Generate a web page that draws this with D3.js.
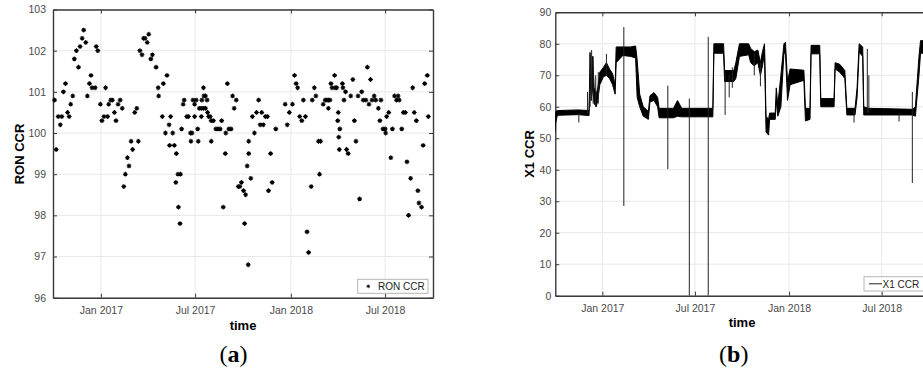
<!DOCTYPE html>
<html lang="en">
<head>
<meta charset="UTF-8">
<title>RON CCR and X1 CCR</title>
<style>
  body { margin: 0; background: #fff; }
  text { font-family: "Liberation Sans", Arial, sans-serif; }
</style>
</head>
<body>
<svg width="923" height="370"></svg>
<script src="https://d3js.org/d3.v7.min.js"></script>
<script>
// ---- data ----
// (a) RON CCR samples: days since 1 Jan 2017, value
const ronDays = [
  -89, -86, -82.5, -78, -75, -72, -68, -64, -61, -58, -54, -51, -47, -43.5, -40, -36.5, -33, -29,
  -26, -22, -19, -17, -11.5, -9, -6, -1, 2, 6, 9, 13, 15, 19, 22, 26, 29, 33, 37, 41,
  43.5, 47, 50.5, 54, 58, 61, 65, 69, 72, 75, 79, 82, 85, 89, 92, 96, 99, 106, 110, 111,
  118, 120, 124, 127, 131, 132, 134, 138, 141, 144, 145, 148, 149, 152, 153, 155, 158, 160,
  165, 168, 172, 173, 175, 177, 180, 180, 183, 185.5, 187, 189, 193, 193, 194, 197, 197, 198,
  201, 201, 204, 205, 207, 210, 212, 212, 216, 221, 225, 229, 232, 235, 239, 240, 243, 246,
  250, 253, 256, 260, 264, 267, 270, 274, 276, 278, 281, 283, 284, 284, 288, 291, 295, 299,
  303, 306, 309, 312, 316, 320, 322, 326, 329, 336, 354, 358, 362, 368, 372, 375, 378, 382,
  386, 389, 393, 396, 399, 404, 406, 410, 413, 418, 420, 422, 427, 431, 434, 437, 437, 440,
  442, 444, 449, 450, 453, 455, 456, 457, 458, 459, 464, 465, 467, 470, 472, 475, 480, 484,
  487, 490, 494, 497, 501, 504, 509, 512, 515, 518, 521, 525, 528, 533, 536, 538, 542, 546,
  547, 549, 553, 557, 560, 564, 568, 571, 573, 578, 581, 585, 588, 591, 595, 599, 602, 606,
  609, 611, 616, 619, 622, 627, 629
];
const ronValues = [
  100.8, 99.6, 100.4, 100.2, 100.4, 101.0, 101.2, 100.5, 100.4, 100.7, 100.9, 101.8, 102.0, 101.6, 102.1, 102.3, 102.5, 102.2,
  100.9, 101.2, 101.4, 101.1, 101.1, 102.1, 102.0, 100.7, 100.3, 100.4, 101.1, 100.4, 100.7, 100.8, 100.8, 100.5, 100.3, 100.7, 100.8, 100.6,
  98.7, 99.0, 99.4, 99.2, 99.8, 99.6, 100.5, 100.6, 99.8, 102.0, 101.9, 102.3, 102.3, 102.2, 102.4, 101.8, 101.9, 101.6, 101.1, 100.9,
  100.4, 101.2, 100.0, 101.4, 100.2, 99.7, 100.4, 100.0, 99.7, 98.8, 99.5, 99.0, 98.2, 97.8, 99.0, 100.1, 100.7, 100.8,
  100.4, 100.4, 100.0, 99.8, 100.0, 100.8, 100.7, 100.4, 100.8, 100.1, 99.8, 100.6, 100.4, 100.6, 100.8, 101.1, 100.6, 100.9,
  100.9, 100.6, 100.8, 100.5, 100.4, 100.4, 100.3, 99.8, 100.3, 100.1, 100.1, 100.1, 100.3, 98.2, 99.5, 100.0, 101.2, 100.1,
  100.1, 100.9, 100.6, 100.8, 98.7, 98.7, 98.8, 98.6, 97.8, 98.5, 99.2, 96.8, 99.8, 99.5, 98.9, 100.4, 100.0, 100.5,
  100.8, 100.2, 100.5, 100.2, 100.4, 100.4, 98.6, 99.5, 98.8, 100.1, 100.7, 100.2, 100.5, 100.7, 101.4, 101.2, 101.1, 100.4,
  100.3, 100.8, 100.4, 97.6, 97.1, 98.7, 100.8, 101.1, 100.9, 99.8, 99.0, 99.8, 100.7, 100.8, 100.8, 100.8, 100.6, 100.8,
  101.2, 101.1, 101.4, 101.1, 101.1, 100.3, 100.5, 99.9, 99.6, 100.1, 101.2, 101.1, 100.8, 101.0, 99.6, 99.5, 100.9, 101.3,
  100.3, 99.8, 100.9, 98.4, 101.0, 100.8, 100.8, 101.6, 100.7, 101.3, 100.8, 100.9, 100.8, 100.6, 100.3, 100.8, 100.1, 100.1,
  100.0, 100.4, 100.5, 99.4, 100.1, 100.9, 100.8, 100.9, 100.8, 100.1, 100.5, 100.5, 99.3, 98.0, 98.9, 101.1, 100.5, 100.3,
  98.6, 98.3, 98.2, 99.7, 101.2, 101.4, 100.4
];

// (b) X1 CCR: noisy band, low and high edge per date
const x1Dates = [
  "2016-09-30", "2016-10-02", "2016-10-05", "2016-11-15", "2016-12-06", "2016-12-08", "2016-12-10", "2016-12-13",
  "2016-12-16", "2016-12-20", "2016-12-23", "2016-12-27", "2017-01-03", "2017-01-09", "2017-01-15", "2017-01-21",
  "2017-01-26", "2017-01-28", "2017-02-10", "2017-02-25", "2017-03-07", "2017-03-10", "2017-03-15", "2017-03-22",
  "2017-04-01", "2017-04-04", "2017-04-12", "2017-04-19", "2017-04-22", "2017-05-20", "2017-05-28", "2017-06-05",
  "2017-08-05", "2017-08-07", "2017-08-26", "2017-08-28", "2017-09-15", "2017-09-19", "2017-09-26", "2017-10-14",
  "2017-10-18", "2017-10-25", "2017-11-01", "2017-11-06", "2017-11-10", "2017-11-14", "2017-11-17", "2017-11-22",
  "2017-11-24", "2017-12-05", "2017-12-07", "2017-12-10", "2017-12-16", "2017-12-22", "2017-12-25", "2017-12-29",
  "2018-01-03", "2018-01-30", "2018-02-02", "2018-02-11", "2018-02-13", "2018-03-02", "2018-03-04", "2018-03-30",
  "2018-04-01", "2018-04-10", "2018-04-20", "2018-04-24", "2018-05-10", "2018-05-14", "2018-05-18", "2018-05-25",
  "2018-05-27", "2018-06-05", "2018-08-30", "2018-09-05", "2018-09-12", "2018-09-15", "2018-10-01"
];
const x1Low = [
  52, 55, 57.3, 57.5, 57.2, 70, 62, 66, 61, 60, 62, 67, 69.5, 70, 69, 67,
  64, 74, 76.3, 76, 75.5, 63, 60, 57, 56, 61.5, 62, 60, 56.5, 56.5, 57, 56.8,
  56.8, 77, 77, 68, 68, 69, 76, 76.5, 74, 73, 74, 70, 73, 77, 52, 51,
  56, 56, 62, 57, 60, 77, 77, 62, 67, 68.4, 55.5, 56, 76.8, 76.8, 60, 60,
  72, 71, 69, 57.4, 57.4, 63, 77.4, 76, 57.4, 57.4, 57.4, 57, 70, 77, 77
];
const x1High = [
  56, 58.5, 58.8, 59, 58.8, 77, 68, 76, 66, 64, 66, 71, 72.5, 74, 72, 70.5,
  67, 79, 79, 79, 79.3, 75, 64, 60, 58.5, 63.5, 64.5, 63, 59.5, 59.5, 62, 59.5,
  59.5, 80, 80, 71.5, 71.5, 74, 80, 80, 78.5, 77.5, 78, 74, 77.5, 80, 57, 56,
  58, 58, 66, 60.5, 70, 80, 80.5, 68, 72, 71.6, 59.5, 59.5, 79.5, 79.5, 62.6, 62.6,
  74, 73.5, 71.5, 59.5, 59.5, 66, 80, 79, 60, 59.5, 59.2, 60, 76, 81, 81
];

// (b) single outlier spikes
const spikeDates = [
  "2016-11-16", "2016-12-03", "2016-12-08", "2016-12-11", "2016-12-14", "2016-12-19", "2016-12-24",
  "2017-01-09", "2017-02-12", "2017-05-09", "2017-06-20", "2017-07-27", "2017-08-29", "2017-09-06",
  "2017-09-12", "2017-10-25", "2017-11-06", "2018-05-08", "2018-06-03", "2018-06-06", "2018-08-04",
  "2018-08-30"
];
const spikeLow = [55, 58, 60, 62, 61, 60, 61, 70, 28.5, 40.2, 0, 0, 57.4, 63, 66, 70, 66.5, 55, 58, 58, 55.3, 35.8];
const spikeHigh = [58, 64.7, 77.5, 78, 76, 70, 71, 76.8, 85.3, 66.7, 62.6, 82.2, 70, 70, 72.5, 77, 74, 59, 78.4, 70, 58, 64.7];

const dateTicks = ["2017-01-01", "2017-07-01", "2018-01-01", "2018-07-01"];
const ronTicks = [96, 97, 98, 99, 100, 101, 102, 103];
const x1Ticks = [0, 10, 20, 30, 40, 50, 60, 70, 80, 90];

// ---- setup ----
const parse = d3.timeParse("%Y-%m-%d");
const day0 = parse("2017-01-01");
const tStart = parse("2016-10-01"), tEnd = parse("2018-10-01");
const tickDates = dateTicks.map(parse);
const fmt = d3.timeFormat("%b %Y");

const svg = d3.select("svg");
const frameColor = "#3a3a3a", gridColor = "#e8e8e8", labelColor = "#4a4a4a";

function drawFrame(g, x, y, yTicks, tickPad) {
  const [x0, x1] = x.range(), [y1, y0] = y.range();

  // grid
  g.append("g").selectAll("line").data(tickDates).join("line")
    .attr("x1", d => x(d)).attr("x2", d => x(d)).attr("y1", y0).attr("y2", y1)
    .attr("stroke", gridColor);
  g.append("g").selectAll("line").data(yTicks).join("line")
    .attr("x1", x0).attr("x2", x1).attr("y1", d => y(d)).attr("y2", d => y(d))
    .attr("stroke", gridColor);

  const styleAxis = a => {
    a.selectAll("path.domain").attr("stroke", frameColor).attr("stroke-width", 1.4);
    a.selectAll(".tick line").attr("stroke", frameColor).attr("stroke-width", 1);
    a.selectAll("text").attr("fill", labelColor).style("font-size", "10.5px")
      .style("font-family", '"Liberation Sans", Arial, sans-serif');
  };

  g.append("g").attr("transform", `translate(0,${y1})`)
    .call(d3.axisBottom(x).tickValues(tickDates).tickFormat(fmt).tickSizeInner(-4).tickSizeOuter(0).tickPadding(9))
    .call(styleAxis);
  g.append("g").attr("transform", `translate(0,${y0})`)
    .call(d3.axisTop(x).tickValues(tickDates).tickFormat("").tickSizeInner(-4).tickSizeOuter(0))
    .call(styleAxis);
  g.append("g").attr("transform", `translate(${x0},0)`)
    .call(d3.axisLeft(y).tickValues(yTicks).tickFormat(d3.format("d")).tickSizeInner(-4).tickSizeOuter(0).tickPadding(tickPad))
    .call(styleAxis);
  g.append("g").attr("transform", `translate(${x1},0)`)
    .call(d3.axisRight(y).tickValues(yTicks).tickFormat("").tickSizeInner(-4).tickSizeOuter(0))
    .call(styleAxis);
}

// ---- (a) RON CCR ----
const xa = d3.scaleTime().domain([tStart, tEnd]).range([53, 433]);
const ya = d3.scaleLinear().domain([96, 103]).range([297.7, 9.5]);
const ga = svg.append("g");
drawFrame(ga, xa, ya, ronTicks, 7);

const star = "M-2.4,0H2.4M0,-2.4V2.4M-1.6,-1.6L1.6,1.6M-1.6,1.6L1.6,-1.6";
ga.append("g").selectAll("path").data(ronDays).join("path")
  .attr("transform", (d, i) => `translate(${xa(d3.timeDay.offset(day0, Math.round(d)))},${ya(ronValues[i])})`)
  .attr("d", star).attr("stroke", "#000").attr("stroke-width", 1.1).attr("fill", "none");

ga.append("text").attr("transform", "translate(24,154) rotate(-90)")
  .attr("text-anchor", "middle").style("font-size", "13px").style("font-weight", "bold").text("RON CCR");
ga.append("text").attr("x", 243).attr("y", 330).attr("text-anchor", "middle")
  .style("font-size", "13px").style("font-weight", "bold").text("time");

// legend (a)
ga.append("rect").attr("x", 357.7).attr("y", 279.3).attr("width", 70.3).attr("height", 14)
  .attr("fill", "#fff").attr("stroke", "#b5b5b5");
ga.append("path").attr("d", star).attr("stroke", "#000").attr("stroke-width", 1)
  .attr("transform", "translate(368.3,286.3) scale(0.8)");
ga.append("text").attr("x", 378).attr("y", 290).style("font-size", "10px").attr("fill", "#222").text("RON CCR");

// ---- (b) X1 CCR ----
const xb = d3.scaleTime().domain([tStart, tEnd]).range([555.3, 928.7]);
const yb = d3.scaleLinear().domain([0, 90]).range([295.7, 12.3]);
const gb = svg.append("g");

gb.append("clipPath").attr("id", "clipb").append("rect")
  .attr("x", 555.3).attr("y", 12.3).attr("width", 373.4).attr("height", 283.4);

drawFrame(gb, xb, yb, x1Ticks, 4);

const band = x1Dates.map((d, i) => ({ t: parse(d), lo: x1Low[i], hi: x1High[i] }));
const plot = gb.append("g").attr("clip-path", "url(#clipb)");
plot.append("path").datum(band)
  .attr("d", d3.area().x(d => xb(d.t)).y0(d => yb(d.lo)).y1(d => yb(d.hi)))
  .attr("fill", "#000").attr("stroke", "#000").attr("stroke-width", 1);
plot.append("g").selectAll("line").data(spikeDates).join("line")
  .attr("x1", d => xb(parse(d))).attr("x2", d => xb(parse(d)))
  .attr("y1", (d, i) => yb(spikeLow[i])).attr("y2", (d, i) => yb(spikeHigh[i]))
  .attr("stroke", "#222").attr("stroke-width", 1);

gb.append("text").attr("transform", "translate(534,154) rotate(-90)")
  .attr("text-anchor", "middle").style("font-size", "13px").style("font-weight", "bold").text("X1 CCR");
gb.append("text").attr("x", 742).attr("y", 327).attr("text-anchor", "middle")
  .style("font-size", "13px").style("font-weight", "bold").text("time");

// legend (b)
gb.append("rect").attr("x", 864).attr("y", 276.7).attr("width", 64).attr("height", 14.3)
  .attr("fill", "#fff").attr("stroke", "#b5b5b5");
gb.append("line").attr("x1", 869).attr("x2", 882).attr("y1", 283.8).attr("y2", 283.8)
  .attr("stroke", "#222").attr("stroke-width", 1);
gb.append("text").attr("x", 882.5).attr("y", 287.6).style("font-size", "10px").attr("fill", "#222").text("X1 CCR");

// sub-figure labels
svg.append("text").attr("x", 233.5).attr("y", 361.5).attr("text-anchor", "middle")
  .style("font-family", '"Liberation Serif", "DejaVu Serif", serif').style("font-size", "24px")
  .html('(<tspan font-weight="bold">a</tspan>)');
svg.append("text").attr("x", 733.7).attr("y", 361.5).attr("text-anchor", "middle")
  .style("font-family", '"Liberation Serif", "DejaVu Serif", serif').style("font-size", "24px")
  .html('(<tspan font-weight="bold">b</tspan>)');
</script>
</body>
</html>
